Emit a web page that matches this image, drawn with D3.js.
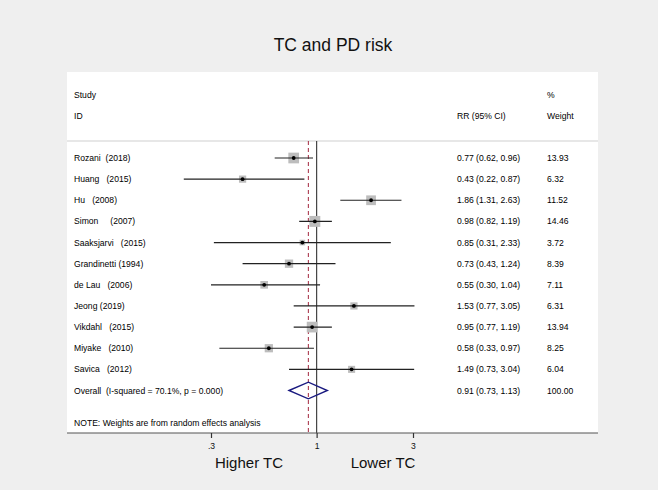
<!DOCTYPE html>
<html><head><meta charset="utf-8">
<script src="https://cdn.jsdelivr.net/npm/d3@7"></script>
<style>
html,body{margin:0;padding:0;background:#fff;}
text{font-family:"Liberation Sans",Arial,sans-serif;white-space:pre;}
</style></head>
<body><svg id="c" width="661" height="495"></svg>
<script>
const studies = ["Rozani  (2018)", "Huang   (2015)", "Hu   (2008)", "Simon     (2007)", "Saaksjarvi   (2015)", "Grandinetti (1994)", "de Lau   (2006)", "Jeong (2019)", "Vikdahl   (2015)", "Miyake   (2010)", "Savica   (2012)"];
const rr     = [0.77, 0.43, 1.86, 0.98, 0.85, 0.73, 0.55, 1.53, 0.95, 0.58, 1.49];
const lo     = [0.62, 0.22, 1.31, 0.82, 0.31, 0.43, 0.30, 0.77, 0.77, 0.33, 0.73];
const hi     = [0.96, 0.87, 2.63, 1.19, 2.33, 1.24, 1.04, 3.05, 1.19, 0.97, 3.04];
const weight = [13.93, 6.32, 11.52, 14.46, 3.72, 8.39, 7.11, 6.31, 13.94, 8.25, 6.04];
const overallLabel = "Overall  (I-squared = 70.1%, p = 0.000)";
const overall = {rr: 0.91, lo: 0.73, hi: 1.13, weight: 100.00};
const tickVals = [0.3, 1, 3];
const tickLabels = [".3", "1", "3"];

const svg = d3.select("#c");
const fmt = d3.format(".2f");

// background
svg.append("rect").attr("x",0).attr("y",0).attr("width",658).attr("height",490).attr("fill","#efefef");
const P = {l:67, r:598, t:72, b:433};
svg.append("rect").attr("x",P.l).attr("y",P.t).attr("width",P.r-P.l).attr("height",P.b-P.t).attr("fill","#fff");

svg.append("text").attr("x",333).attr("y",51).attr("text-anchor","middle")
  .attr("font-size",17.5).attr("fill","#111").text("TC and PD risk");

const x = d3.scaleLog().domain([0.3, 3]).range([211, 413]);
const rowY = d3.scaleLinear().domain([0, 11]).range([158, 390.5]);

const fs = 8.6;
const colText = 74, colRR = 457, colW = 547;
// header
svg.append("text").attr("x",colText).attr("y",98).attr("font-size",fs).text("Study");
svg.append("text").attr("x",colText).attr("y",119).attr("font-size",fs).text("ID");
svg.append("text").attr("x",colRR).attr("y",119).attr("font-size",fs).text("RR (95% CI)");
svg.append("text").attr("x",colW).attr("y",98).attr("font-size",fs).text("%");
svg.append("text").attr("x",colW).attr("y",119).attr("font-size",fs).text("Weight");
svg.append("line").attr("x1",P.l).attr("x2",P.r).attr("y1",141).attr("y2",141).attr("stroke","#cfcfcf").attr("stroke-width",1);

// reference lines
svg.append("line").attr("x1",x(1)).attr("x2",x(1)).attr("y1",141).attr("y2",P.b).attr("stroke","#444").attr("stroke-width",1.2);
svg.append("line").attr("x1",x(overall.rr)).attr("x2",x(overall.rr)).attr("y1",141).attr("y2",P.b)
  .attr("stroke","#a3283f").attr("stroke-width",1).attr("stroke-dasharray","4,3");

// rows
studies.forEach((s,i)=>{
  const y = rowY(i);
  svg.append("text").attr("x",colText).attr("y",y+3).attr("font-size",fs).text(s);
  svg.append("text").attr("x",colRR).attr("y",y+3).attr("font-size",fs).text(`${fmt(rr[i])} (${fmt(lo[i])}, ${fmt(hi[i])})`);
  svg.append("text").attr("x",colW).attr("y",y+3).attr("font-size",fs).text(fmt(weight[i]));
  const side = 2.87*Math.sqrt(weight[i]);
  svg.append("rect").attr("x",x(rr[i])-side/2).attr("y",y-side/2).attr("width",side).attr("height",side).attr("fill","#bdbdbd");
  svg.append("line").attr("x1",x(lo[i])).attr("x2",x(hi[i])).attr("y1",y).attr("y2",y).attr("stroke","#222").attr("stroke-width",1.2);
  svg.append("circle").attr("cx",x(rr[i])).attr("cy",y).attr("r",1.9).attr("fill","#000");
});

// overall
const yo = rowY(11);
svg.append("text").attr("x",colText).attr("y",yo+3).attr("font-size",fs).text(overallLabel);
svg.append("text").attr("x",colRR).attr("y",yo+3).attr("font-size",fs).text(`${fmt(overall.rr)} (${fmt(overall.lo)}, ${fmt(overall.hi)})`);
svg.append("text").attr("x",colW).attr("y",yo+3).attr("font-size",fs).text(fmt(overall.weight));
const h = 8.3;
svg.append("path").attr("d",`M${x(overall.lo)},${yo} L${x(overall.rr)},${yo-h} L${x(overall.hi)},${yo} L${x(overall.rr)},${yo+h} Z`)
  .attr("fill","none").attr("stroke","#1a1a80").attr("stroke-width",1.4);

svg.append("text").attr("x",colText).attr("y",426).attr("font-size",fs).text("NOTE: Weights are from random effects analysis");

// axis
svg.append("line").attr("x1",P.l).attr("x2",P.r).attr("y1",P.b).attr("y2",P.b).attr("stroke","#555").attr("stroke-width",1.2);
const ax = d3.axisBottom(x).tickValues(tickVals).tickFormat((d,i)=>tickLabels[i]).tickSize(5).tickPadding(5);
const g = svg.append("g").attr("transform",`translate(0,${P.b})`).call(ax);
g.select(".domain").remove();
g.selectAll(".tick line").attr("stroke","#333").attr("stroke-width",1.2);
g.selectAll(".tick text").attr("font-size",8.6).attr("fill","#111").attr("font-family","Liberation Sans, Arial, sans-serif");

svg.append("text").attr("x",249).attr("y",468).attr("text-anchor","middle").attr("font-size",15).attr("fill","#111").text("Higher TC");
svg.append("text").attr("x",383).attr("y",468).attr("text-anchor","middle").attr("font-size",15).attr("fill","#111").text("Lower TC");
</script></body></html>
